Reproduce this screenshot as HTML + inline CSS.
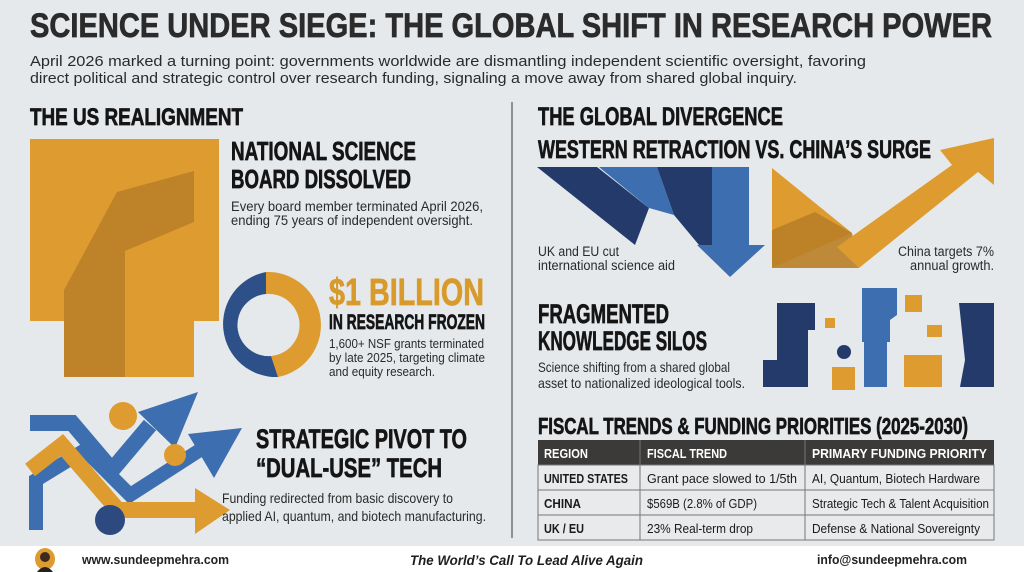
<!DOCTYPE html>
<html><head><meta charset="utf-8"><style>
html,body{margin:0;padding:0;background:#e5e9ec;}
svg{display:block}
text{font-family:"Liberation Sans",sans-serif;}
.h{font-weight:bold;fill:#151515;stroke:#151515;stroke-width:0.7}
.b{fill:#2a2a2a}
</style></head><body>
<svg width="1024" height="572" viewBox="0 0 1024 572" xmlns="http://www.w3.org/2000/svg">
<rect width="1024" height="572" fill="#e5e9ec"/>
<!-- title -->
<text class="h" x="30" y="37" font-size="34" textLength="962" lengthAdjust="spacingAndGlyphs" style="fill:#2b2b2b;stroke:#2b2b2b">SCIENCE UNDER SIEGE: THE GLOBAL SHIFT IN RESEARCH POWER</text>
<text class="b" x="30" y="66" font-size="15" textLength="836" lengthAdjust="spacingAndGlyphs">April 2026 marked a turning point: governments worldwide are dismantling independent scientific oversight, favoring</text>
<text class="b" x="30" y="83" font-size="15" textLength="767" lengthAdjust="spacingAndGlyphs">direct political and strategic control over research funding, signaling a move away from shared global inquiry.</text>
<line x1="512" y1="102" x2="512" y2="538" stroke="#555" stroke-width="1.2"/>

<!-- US realignment -->
<text class="h" x="30" y="125" font-size="24" textLength="213" lengthAdjust="spacingAndGlyphs">THE US REALIGNMENT</text>
<path d="M30 139H219V321H194V377H64V321H30Z" fill="#de9b2f"/>
<path d="M64 290L117 192L194 171V222L125 251V377H64Z" fill="#b97f27" opacity="0.85"/>
<text class="h" x="231" y="160" font-size="26" textLength="185" lengthAdjust="spacingAndGlyphs">NATIONAL SCIENCE</text>
<text class="h" x="231" y="188" font-size="26" textLength="180" lengthAdjust="spacingAndGlyphs">BOARD DISSOLVED</text>
<text class="b" x="231" y="211" font-size="14" textLength="252" lengthAdjust="spacingAndGlyphs">Every board member terminated April 2026,</text>
<text class="b" x="231" y="225" font-size="14" textLength="242" lengthAdjust="spacingAndGlyphs">ending 75 years of independent oversight.</text>
<!-- donut -->
<path d="M266 272A53 53 0 0 1 278 377L271 356A31 31 0 0 0 266 294Z" fill="#de9b2f"/>
<path d="M266 272A53 53 0 0 0 278 377L271 356A31 31 0 0 1 266 294Z" fill="#2d5089"/>
<text x="329" y="305" font-size="38" font-weight="bold" fill="#d99a2c" stroke="#d99a2c" stroke-width="0.7" textLength="155" lengthAdjust="spacingAndGlyphs">$1 BILLION</text>
<text class="h" x="329" y="329" font-size="21" textLength="156" lengthAdjust="spacingAndGlyphs">IN RESEARCH FROZEN</text>
<text class="b" x="329" y="348" font-size="13" textLength="155" lengthAdjust="spacingAndGlyphs">1,600+ NSF grants terminated</text>
<text class="b" x="329" y="362" font-size="13" textLength="156" lengthAdjust="spacingAndGlyphs">by late 2025, targeting climate</text>
<text class="b" x="329" y="376" font-size="13" textLength="106" lengthAdjust="spacingAndGlyphs">and equity research.</text>

<!-- pivot icon -->
<polyline points="30,423 72,423 112,470 150,425" fill="none" stroke="#3d6fb0" stroke-width="16"/>
<path d="M138 412L198 392L175 448Z" fill="#3d6fb0"/>
<polyline points="36,530 36,480 85,450 130,495 200,450" fill="none" stroke="#3d6fb0" stroke-width="14"/>
<path d="M188 434L242 428L214 478Z" fill="#3d6fb0"/>
<polyline points="30,470 62,445 118,510 205,510" fill="none" stroke="#de9b2f" stroke-width="16"/>
<path d="M195 488L230 510L195 534Z" fill="#de9b2f"/>
<circle cx="123" cy="416" r="14" fill="#de9b2f"/>
<circle cx="175" cy="455" r="11" fill="#de9b2f"/>
<circle cx="110" cy="520" r="15" fill="#2d4a80"/>
<text class="h" x="256" y="448" font-size="27" textLength="211" lengthAdjust="spacingAndGlyphs">STRATEGIC PIVOT TO</text>
<text class="h" x="256" y="477" font-size="27" textLength="186" lengthAdjust="spacingAndGlyphs">“DUAL-USE” TECH</text>
<text class="b" x="222" y="503" font-size="14" textLength="231" lengthAdjust="spacingAndGlyphs">Funding redirected from basic discovery to</text>
<text class="b" x="222" y="521" font-size="14" textLength="264" lengthAdjust="spacingAndGlyphs">applied AI, quantum, and biotech manufacturing.</text>

<!-- global divergence -->
<text class="h" x="538" y="125" font-size="25" textLength="245" lengthAdjust="spacingAndGlyphs">THE GLOBAL DIVERGENCE</text>
<text class="h" x="538" y="158" font-size="25" textLength="393" lengthAdjust="spacingAndGlyphs">WESTERN RETRACTION VS. CHINA’S SURGE</text>
<path d="M537 167H597L649 208L635 245Z" fill="#233a6b"/>
<path d="M599 167H657L674 215L649 208Z" fill="#3d6fb0"/>
<path d="M657 167H712V250L699 245L674 215Z" fill="#233a6b"/>
<path d="M712 167H749V245H765L730 277L697 245H712Z" fill="#3d6fb0"/>
<text class="b" x="538" y="256" font-size="13.5" textLength="81" lengthAdjust="spacingAndGlyphs">UK and EU cut</text>
<text class="b" x="538" y="270" font-size="13.5" textLength="137" lengthAdjust="spacingAndGlyphs">international science aid</text>
<path d="M772 168L852 233L772 268Z" fill="#de9b2f"/>
<path d="M772 230L815 212L852 233L859 268H772Z" fill="#b97f27" opacity="0.9"/>
<path d="M837 247L952 165L940 150L994 138L994 185L978 172L859 268Z" fill="#de9b2f"/>
<text class="b" x="994" y="256" font-size="13.5" text-anchor="end" textLength="96" lengthAdjust="spacingAndGlyphs">China targets 7%</text>
<text class="b" x="994" y="270" font-size="13.5" text-anchor="end" textLength="84" lengthAdjust="spacingAndGlyphs">annual growth.</text>

<text class="h" x="538" y="323" font-size="27" textLength="131" lengthAdjust="spacingAndGlyphs">FRAGMENTED</text>
<text class="h" x="538" y="350" font-size="27" textLength="169" lengthAdjust="spacingAndGlyphs">KNOWLEDGE SILOS</text>
<text class="b" x="538" y="372" font-size="14" textLength="192" lengthAdjust="spacingAndGlyphs">Science shifting from a shared global</text>
<text class="b" x="538" y="388" font-size="14" textLength="207" lengthAdjust="spacingAndGlyphs">asset to nationalized ideological tools.</text>
<path d="M777 303H815V330H808V387H763V360H777Z" fill="#233a6b"/>
<path d="M862 288H897V315L890 320V342H862Z" fill="#3d6fb0"/>
<path d="M864 342H887V387H864Z" fill="#3d6fb0"/>
<path d="M959 303H994V387H960L965 360Z" fill="#233a6b"/>
<rect x="825" y="318" width="10" height="10" fill="#de9b2f"/>
<rect x="905" y="295" width="17" height="17" fill="#de9b2f"/>
<rect x="927" y="325" width="15" height="12" fill="#de9b2f"/>
<rect x="904" y="355" width="38" height="32" fill="#de9b2f"/>
<rect x="832" y="367" width="23" height="23" fill="#de9b2f"/>
<circle cx="844" cy="352" r="7" fill="#233a6b"/>

<!-- table -->
<text class="h" x="538" y="434" font-size="23" textLength="430" lengthAdjust="spacingAndGlyphs">FISCAL TRENDS &amp; FUNDING PRIORITIES (2025-2030)</text>
<rect x="538" y="440" width="456" height="25" fill="#3b3a39"/>
<rect x="538" y="465" width="456" height="75" fill="#e8eaeb" stroke="#777" stroke-width="1"/>
<line x1="538" y1="490" x2="994" y2="490" stroke="#777"/>
<line x1="538" y1="515" x2="994" y2="515" stroke="#777"/>
<line x1="640" y1="440" x2="640" y2="540" stroke="#777"/>
<line x1="805" y1="440" x2="805" y2="540" stroke="#777"/>
<g font-size="13" fill="#fff" font-weight="bold">
<text x="544" y="458" textLength="44" lengthAdjust="spacingAndGlyphs">REGION</text>
<text x="647" y="458" textLength="80" lengthAdjust="spacingAndGlyphs">FISCAL TREND</text>
<text x="812" y="458" textLength="175" lengthAdjust="spacingAndGlyphs">PRIMARY FUNDING PRIORITY</text>
</g>
<g font-size="13" fill="#1a1a1a">
<text x="544" y="483" font-weight="bold" textLength="84" lengthAdjust="spacingAndGlyphs">UNITED STATES</text>
<text x="647" y="483" textLength="150" lengthAdjust="spacingAndGlyphs">Grant pace slowed to 1/5th</text>
<text x="812" y="483" textLength="168" lengthAdjust="spacingAndGlyphs">AI, Quantum, Biotech Hardware</text>
<text x="544" y="508" font-weight="bold" textLength="37" lengthAdjust="spacingAndGlyphs">CHINA</text>
<text x="647" y="508" textLength="110" lengthAdjust="spacingAndGlyphs">$569B (2.8% of GDP)</text>
<text x="812" y="508" textLength="177" lengthAdjust="spacingAndGlyphs">Strategic Tech &amp; Talent Acquisition</text>
<text x="544" y="533" font-weight="bold" textLength="40" lengthAdjust="spacingAndGlyphs">UK / EU</text>
<text x="647" y="533" textLength="106" lengthAdjust="spacingAndGlyphs">23% Real-term drop</text>
<text x="812" y="533" textLength="168" lengthAdjust="spacingAndGlyphs">Defense &amp; National Sovereignty</text>
</g>

<!-- footer -->
<rect x="0" y="546" width="1024" height="26" fill="#ffffff"/>
<ellipse cx="45" cy="559" rx="10" ry="11" fill="#de9b2f"/>
<circle cx="45" cy="557" r="5" fill="#3a2a20"/>
<path d="M37 572Q45 562 53 572Z" fill="#222"/>
<text x="82" y="564" font-size="13" font-weight="bold" fill="#222" textLength="147" lengthAdjust="spacingAndGlyphs">www.sundeepmehra.com</text>
<text x="410" y="565" font-size="14" font-weight="bold" font-style="italic" fill="#1e1e1e" textLength="233" lengthAdjust="spacingAndGlyphs">The World’s Call To Lead Alive Again</text>
<text x="817" y="564" font-size="13" font-weight="bold" fill="#222" textLength="150" lengthAdjust="spacingAndGlyphs">info@sundeepmehra.com</text>
</svg>
</body></html>
